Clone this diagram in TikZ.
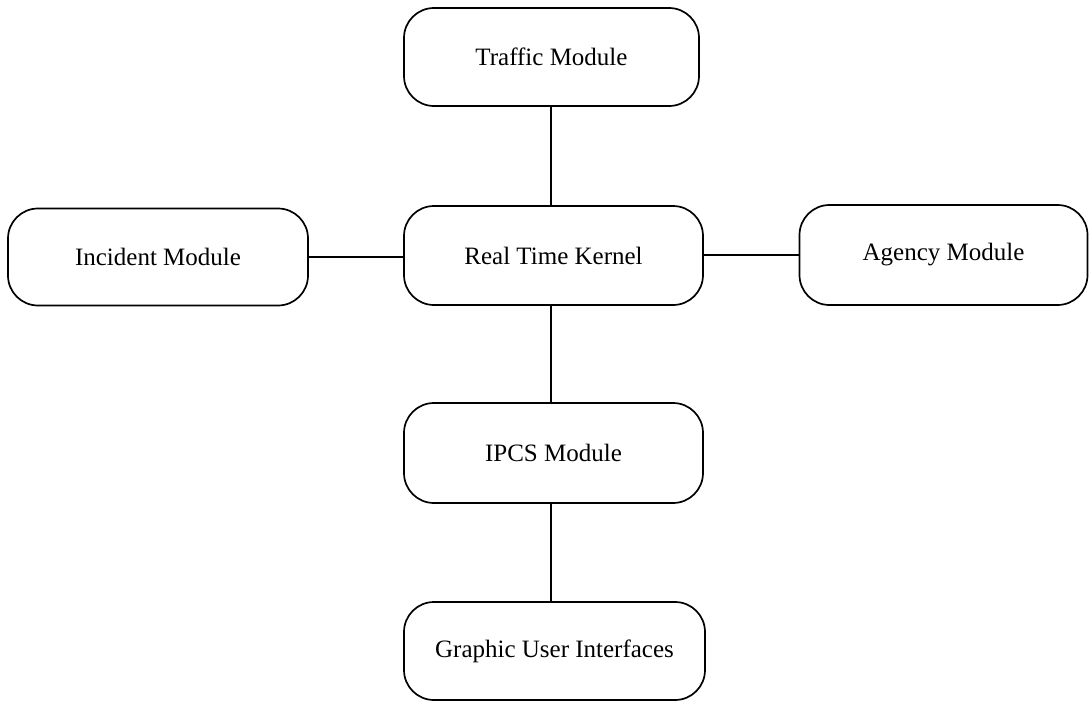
\documentclass[tikz,border=0pt]{standalone}
\usepackage{fontspec}
\setmainfont{Liberation Serif}
\begin{document}
\begin{tikzpicture}[x=1pt,y=-1pt,
  box/.style={draw, line width=1.7pt, rounded corners=30pt, font=\fontsize{25}{29}\selectfont, inner sep=0pt},
  link/.style={line width=1.7pt}]
\useasboundingbox (0,0) rectangle (1089,701);
\node[box, minimum width=295pt, minimum height=98pt] (traffic) at (551.5,57) {Traffic Module};
\node[box, minimum width=299pt, minimum height=99pt] (kernel) at (553.5,255.5) {Real Time Kernel};
\node[box, minimum width=300pt, minimum height=97pt] (incident) at (158,257) {Incident Module};
\node[box, minimum width=288pt, minimum height=100pt] (agency) at (943.5,255) {Agency Module};
\node[box, minimum width=299pt, minimum height=100pt] (ipcs) at (553.5,453) {IPCS Module};
\node[box, minimum width=301pt, minimum height=98pt] (gui) at (554.5,651) {Graphic User Interfaces};
\draw[link] (traffic.south -| 551,0) -- (kernel.north -| 551,0);
\draw[link] (incident.east) -- (kernel.west |- incident.east);
\draw[link] (kernel.east |- 0,255) -- (agency.west |- 0,255);
\draw[link] (kernel.south -| 551,0) -- (ipcs.north -| 551,0);
\draw[link] (ipcs.south -| 551,0) -- (gui.north -| 551,0);
\end{tikzpicture}
\end{document}
